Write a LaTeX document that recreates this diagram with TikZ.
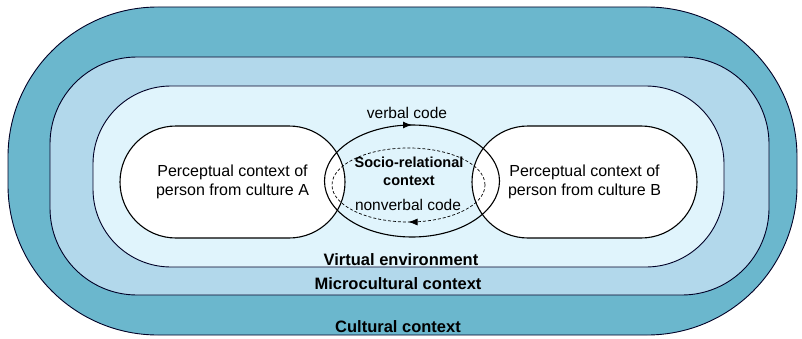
\documentclass[tikz,border=0pt]{standalone}
\usepackage{fontspec}
\setmainfont{Liberation Sans}
\usetikzlibrary{shapes.misc}
\usetikzlibrary{arrows.meta}
\usetikzlibrary{decorations.markings}
\definecolor{cultural}{RGB}{107,183,205}
\definecolor{microcult}{RGB}{178,216,235}
\definecolor{virtual}{RGB}{224,244,252}
\tikzset{
  layer/.style={draw=black!85!blue, line width=0.9pt},
  percept/.style={rounded rectangle, draw, fill=white, line width=1.1pt,
    minimum width=225pt, minimum height=112pt, inner sep=0pt, align=center,
    font=\fontsize{16}{19.5}\selectfont},
  codetext/.style={font=\fontsize{15.5}{18}\selectfont},
  ringtext/.style={font=\bfseries\fontsize{16.5}{19}\selectfont},
  midarrow/.style={postaction={decorate}, decoration={markings,
    mark=at position #1 with {\arrowreversed{Latex[length=9pt,width=7pt]}}}}
}
\begin{document}
\begin{tikzpicture}[x=1pt,y=1pt]
  \useasboundingbox (0,0) rectangle (802,338);
  \draw[layer, fill=cultural, rounded corners=150pt] (8,3) rectangle (797,331);
  \draw[layer, fill=microcult, rounded corners=87pt] (50,43) rectangle (769,281);
  \draw[layer, fill=virtual, rounded corners=78pt] (93,71) rectangle (724,252);
  \node[percept] (culA) at (232.5,156) {Perceptual context of\\person from culture A};
  \node[percept] (culB) at (584.5,156) {Perceptual context of\\person from culture B};
  \draw[line width=1.1pt, midarrow=0.25] (412,157) ellipse [x radius=87.5, y radius=56];
  \draw[dash pattern=on 3pt off 2pt, line width=0.7pt, midarrow=0.75] (408.5,153) ellipse [x radius=76.5, y radius=37];
  \node[codetext] (vcode) at (407,225) {verbal code};
  \node[font=\bfseries\fontsize{14.5}{18}\selectfont, align=center] (socio) at (409,167) {Socio-relational\\context};
  \node[codetext] (nvcode) at (408,133) {nonverbal code};
  \node[ringtext] (virt) at (401,78) {Virtual environment};
  \node[ringtext] (micro) at (398,54.5) {Microcultural context};
  \node[ringtext] (cult) at (398,11) {Cultural context};
\end{tikzpicture}
\end{document}
